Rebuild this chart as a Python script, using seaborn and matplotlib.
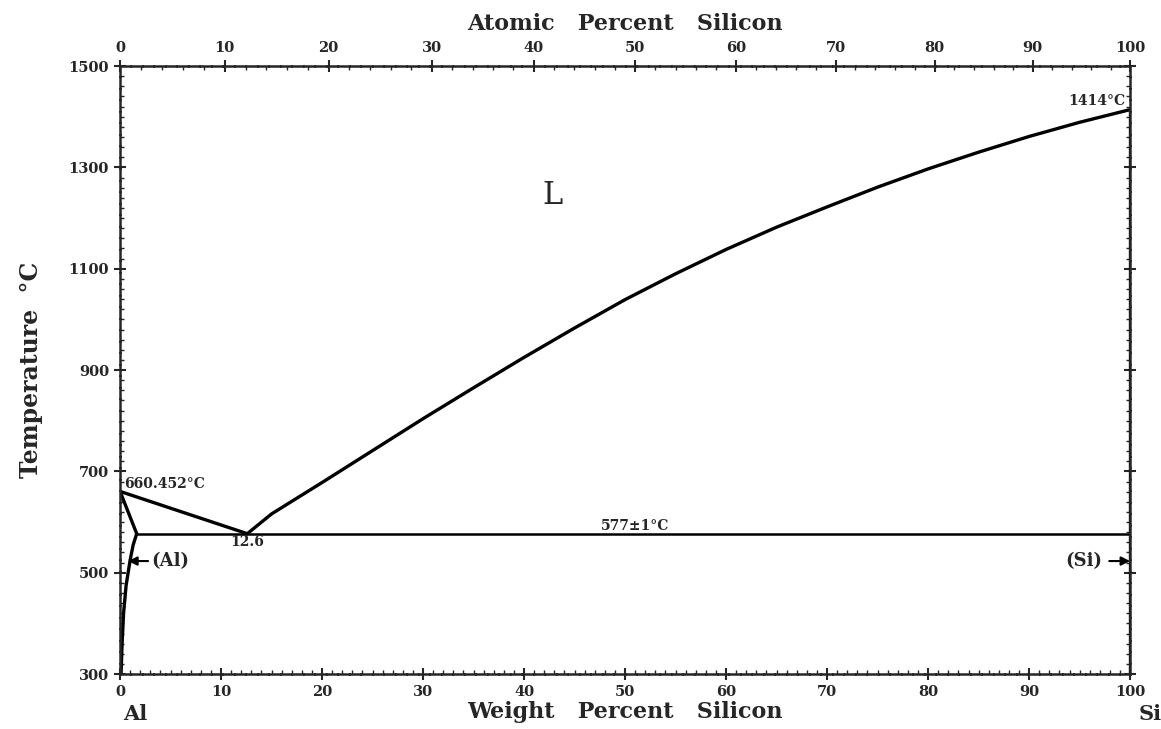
import matplotlib
matplotlib.use("Agg")
import matplotlib.pyplot as plt
import matplotlib.ticker as mticker
import numpy as np
import pandas as pd
import seaborn as sns

# ---- data (wt% Si, temperature degC) ----
liq_al_x = [0.0, 12.6]
liq_al_t = [660.452, 577.0]
solidus_x = [0.0, 1.65]
solidus_t = [660.452, 577.0]
solvus_x = [1.65, 1.3, 1.0, 0.6, 0.35, 0.2, 0.1]
solvus_t = [577, 555, 525, 475, 420, 360, 300]
liq_si_x = [12.6, 15, 20, 25, 30, 35, 40, 45, 50, 55, 60, 65, 70, 75, 80, 85, 90, 95, 100]
liq_si_t = [577, 616, 678, 741, 804, 865, 925, 983, 1039, 1090, 1138, 1182, 1222, 1261, 1297, 1330, 1361, 1389, 1414]
eut_x = [1.65, 100.0]
eut_t = [577.0, 577.0]
si_x = [100.0, 100.0]
si_t = [300.0, 1414.0]

x_ticks = [0, 10, 20, 30, 40, 50, 60, 70, 80, 90, 100]
y_ticks = [300, 500, 700, 900, 1100, 1300, 1500]
at_ticks = [0, 10, 20, 30, 40, 50, 60, 70, 80, 90, 100]

M_AL, M_SI = 26.98154, 28.0855

def wt_to_at(w):
    w = np.clip(np.asarray(w, dtype=float), 0, 100)
    return 100 * (w / M_SI) / (w / M_SI + (100 - w) / M_AL + 1e-12)

def at_to_wt(a):
    a = np.clip(np.asarray(a, dtype=float), 0, 100)
    return 100 * (a * M_SI) / (a * M_SI + (100 - a) * M_AL + 1e-12)

sns.set_style("ticks")
plt.rcParams['font.family'] = ['DejaVu Serif', 'DejaVu Sans']
plt.rcParams['font.weight'] = 'bold'

fig = plt.figure(figsize=(11.61, 7.29), dpi=100)
ax = fig.add_axes([0.1034, 0.0754, 0.870, 0.834])

lw = 2.4
segs = [(liq_al_x, liq_al_t), (solidus_x, solidus_t), (solvus_x, solvus_t),
        (liq_si_x, liq_si_t), (eut_x, eut_t), (si_x, si_t)]
for i, (xs, ts) in enumerate(segs):
    df = pd.DataFrame({"x": xs, "t": ts})
    sns.lineplot(data=df, x="x", y="t", ax=ax, color="black",
                 linewidth=(1.8 if i == 4 else lw), sort=False, estimator=None)

ax.set_xlim(0, 100)
ax.set_ylim(300, 1500)
ax.set_xticks(x_ticks)
ax.set_yticks(y_ticks)
ax.xaxis.set_minor_locator(mticker.MultipleLocator(1))
ax.yaxis.set_minor_locator(mticker.MultipleLocator(20))
ax.tick_params(which='major', direction='inout', length=9, width=1.5, labelsize=10.5)
ax.tick_params(which='minor', direction='in', length=3, width=1.0)
ax.tick_params(axis='y', which='both', right=True, labelright=False)
for s in ax.spines.values():
    s.set_linewidth(1.8)
    s.set_linestyle((0, (4, 0.6)))

ax.set_xlabel("Weight   Percent   Silicon", fontsize=16, fontweight='bold', labelpad=1)
ax.set_ylabel("Temperature  °C", fontsize=17, fontweight='bold', labelpad=18)
for lab in ax.get_xticklabels() + ax.get_yticklabels():
    lab.set_fontweight('bold')

sec = ax.secondary_xaxis('top', functions=(wt_to_at, at_to_wt))
sec.set_xticks(at_ticks)
sec.xaxis.set_minor_locator(mticker.MultipleLocator(2))
sec.tick_params(which='major', direction='inout', length=9, width=1.5, labelsize=10.5)
sec.tick_params(which='minor', direction='in', length=3, width=1.0)
for lab in sec.get_xticklabels():
    lab.set_fontweight('bold')
sec.set_xlabel("Atomic   Percent   Silicon", fontsize=16, fontweight='bold', labelpad=8)

# annotations
ax.text(42.8, 1245, "L", fontsize=22, ha='center', va='center', fontweight='normal')
ax.text(0.4, 662, "660.452°C", fontsize=10, ha='left', va='bottom', fontweight='bold')
ax.text(12.6, 560, "12.6", fontsize=10, ha='center', va='center', fontweight='bold')
ax.text(51.0, 579, "577±1°C", fontsize=10, ha='center', va='bottom', fontweight='bold')
ax.text(99.5, 1418, "1414°C", fontsize=10, ha='right', va='bottom', fontweight='bold')
ax.annotate("(Al)", xy=(0.8, 523), xytext=(3.1, 523), fontsize=13, fontweight='bold',
            ha='left', va='center',
            arrowprops=dict(arrowstyle='-|>', color='black', lw=1.5, shrinkA=0, shrinkB=0))
ax.annotate("(Si)", xy=(100, 523), xytext=(97.2, 523), fontsize=13, fontweight='bold',
            ha='right', va='center',
            arrowprops=dict(arrowstyle='-|>', color='black', lw=1.5, shrinkA=3, shrinkB=0))
fig.text(135 / 1161, 1 - 714 / 729, "Al", fontsize=15, fontweight='bold', ha='center', va='center')
fig.text(1150 / 1161, 1 - 714 / 729, "Si", fontsize=15, fontweight='bold', ha='center', va='center')

fig.savefig("out.png", dpi=100)
